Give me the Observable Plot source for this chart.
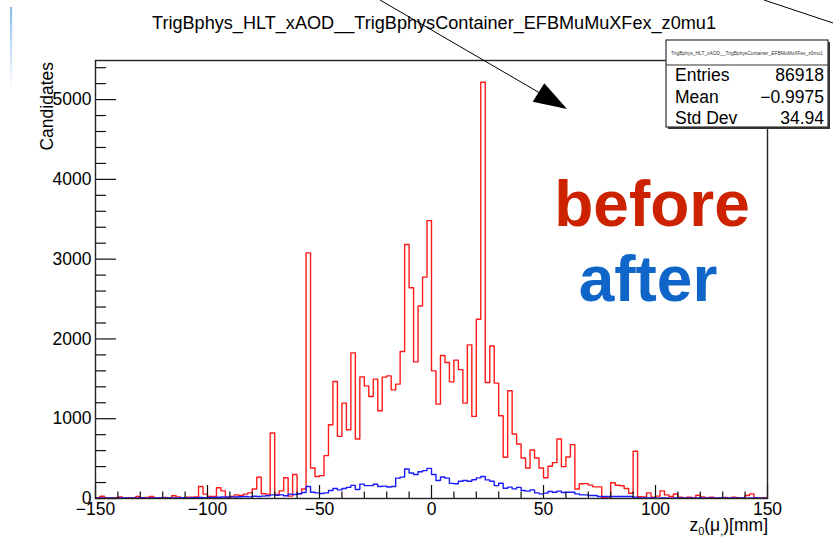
<!DOCTYPE html>
<html><head><meta charset="utf-8">
<script src="https://cdn.jsdelivr.net/npm/d3@7"></script>
<script src="https://cdn.jsdelivr.net/npm/@observablehq/plot@0.6"></script>
<style>
body{margin:0;background:#fff}
#chart{position:relative;width:833px;height:537px;overflow:hidden}
</style>
</head><body><div id="chart"></div>
<script>
// ---- data (bins of 2 mm from -150 to 150) ----
const binLow = -150;
const binWidth = 2;
const before = [
  10,29,8,5,10,20,8,10,8,25, 10,12,25,8,10,12,10,35,20,10,
  15,15,20,150,55,25,25,135,95,17, 25,45,37,55,70,120,267,60,55,821,
  50,95,260,30,300,60,120,3079,383,275, 287,537,925,1467,779,1196,862,1825,746,1525,
  1412,1279,1496,1100,1521,1537,1362,1433,1842,3183, 2642,1712,2412,2775,3483,1600,1183,1792,1704,1462,
  1735,1615,1196,1925,1029,2246,5217,1454,1912,1446, 1037,517,1350,808,683,508,383,608,508,383,
  260,405,450,746,400,520,675,120,185,187, 168,146,146,12,17,198,166,160,125,65,
  592,22,20,70,17,30,95,45,25,56, 17,10,15,10,40,20,10,15,8,10,
  12,8,15,10,8,37,58,10,8,10
];
const after = [
  5,8,5,6,5,8,6,5,7,6, 8,5,7,6,8,7,6,8,7,9,
  8,10,9,12,10,14,12,15,18,15, 20,18,22,25,20,28,25,30,35,46,
  40,45,35,55,50,60,75,150,79,70, 62,70,100,125,108,125,140,165,112,180,
  162,162,178,150,155,145,150,255,268,370, 320,300,335,350,378,300,225,270,255,190,
  185,217,225,217,235,258,275,233,217,162, 192,129,142,121,140,100,92,108,71,58,
  67,87,79,92,75,79,79,58,46,46, 37,37,25,25,25,25,25,25,25,25,
  17,8,8,6,8,5,8,6,5,8, 6,5,8,5,6,8,5,6,5,8,
  6,5,8,5,6,5,8,6,5,5
];
const xMajor = [-150,-100,-50,0,50,100,150];
const xMinor = [-140,-130,-120,-110,-90,-80,-70,-60,-40,-30,-20,-10,10,20,30,40,60,70,80,90,110,120,130,140];
const yMajor = [0,1000,2000,3000,4000,5000];
const yMinor = [200,400,600,800,1200,1400,1600,1800,2200,2400,2600,2800,3200,3400,3600,3800,4200,4400,4600,4800,5200,5400];
const yMax = 5490;
const titleText = "TrigBphys_HLT_xAOD__TrigBphysContainer_EFBMuMuXFex_z0mu1";
const statLabels = ["Entries","Mean","Std Dev"];
const statValues = ["86918","\u22120.9975","34.94"];

function toSteps(vals){
  const pts = vals.map((v,i)=>({x: binLow + i*binWidth, y: v}));
  pts.push({x: binLow + vals.length*binWidth, y: vals[vals.length-1]});
  return pts;
}

const W = 833, H = 537;
const mL = 95, mR = 66, mT = 60, mB = 39;
const fw = W - mL - mR, fh = H - mT - mB;
const FONT = "'Liberation Sans', Arial, Helvetica, sans-serif";

const plot = Plot.plot({
  width: W, height: H,
  marginLeft: mL, marginRight: mR, marginTop: mT, marginBottom: mB,
  style: {fontFamily: FONT, fontSize: "17.5px", background: "white", color: "#000", overflow: "visible"},
  x: {domain: [-150, 150]},
  y: {domain: [0, yMax]},
  marks: [
    Plot.line(toSteps(before), {x: "x", y: "y", curve: "step-after", stroke: "#ff1a1a", strokeWidth: 1.4}),
    Plot.line(toSteps(after), {x: "x", y: "y", curve: "step-after", stroke: "#1a1aff", strokeWidth: 1.4}),
    Plot.tickY(yMajor, {y: d => d, insetRight: fw - 21, stroke: "#111", strokeWidth: 1.2}),
    Plot.tickY(yMinor, {y: d => d, insetRight: fw - 11, stroke: "#111", strokeWidth: 1.2}),
    Plot.tickX(xMajor, {x: d => d, insetTop: fh - 13, stroke: "#111", strokeWidth: 1.2}),
    Plot.tickX(xMinor, {x: d => d, insetTop: fh - 6.5, stroke: "#111", strokeWidth: 1.2}),
    Plot.axisX(xMajor, {tickSize: 0, tickPadding: 4, label: null, fontSize: 17.5}),
    Plot.axisY(yMajor, {tickSize: 0, tickPadding: 4, label: null, fontSize: 17.5, tickFormat: d => `${d}`}),
    Plot.frame({stroke: "#222", strokeWidth: 1.4})
  ]
});
document.getElementById("chart").appendChild(plot);

const svg = d3.select(plot);

// faint vertical line at the far left
const defs = svg.append("defs");
const g = defs.append("linearGradient").attr("id","fadeBlue").attr("x1",0).attr("y1",0).attr("x2",0).attr("y2",1);
g.append("stop").attr("offset","0%").attr("stop-color","#8cbcf0");
g.append("stop").attr("offset","100%").attr("stop-color","#ffffff");
svg.append("rect").attr("x",10).attr("y",7).attr("width",2.2).attr("height",82).attr("fill","url(#fadeBlue)");

// title
const title = svg.append("text").attr("x",434).attr("y",29).attr("text-anchor","middle")
  .attr("font-family",FONT).attr("font-size",17).attr("fill","#000").text(titleText);
let tl = title.node().getComputedTextLength();
if (tl > 0) title.attr("font-size", 17 * 564 / tl);

// y label
svg.append("text").attr("transform","translate(53,62) rotate(-90)").attr("text-anchor","end")
  .attr("font-family",FONT).attr("font-size",17.5).attr("fill","#000").text("Candidates");

// x label with subscripts
const xl = svg.append("text").attr("x",768).attr("y",531).attr("text-anchor","end")
  .attr("font-family",FONT).attr("font-size",17.5).attr("fill","#000");
xl.append("tspan").text("z");
xl.append("tspan").attr("font-size",11).attr("dy",4).text("0");
xl.append("tspan").attr("dy",-4).text("(\u03bc");
xl.append("tspan").attr("font-size",11).attr("dy",4).text(",");
xl.append("tspan").attr("dy",-4).text(")[mm]");

// before / after labels
svg.append("text").attr("x",652).attr("y",226).attr("text-anchor","middle")
  .attr("font-family",FONT).attr("font-weight","bold").attr("font-size",64).attr("fill","#cc2200").text("before");
svg.append("text").attr("x",648).attr("y",301).attr("text-anchor","middle")
  .attr("font-family",FONT).attr("font-weight","bold").attr("font-size",64).attr("fill","#1066c8").text("after");

// stats box
svg.append("rect").attr("x",668).attr("y",42).attr("width",162).attr("height",87).attr("fill","#333");
svg.append("rect").attr("x",666).attr("y",40).attr("width",162).attr("height",87).attr("fill","#fff").attr("stroke","#333").attr("stroke-width",1.2);
svg.append("line").attr("x1",666).attr("x2",828).attr("y1",65).attr("y2",65).attr("stroke","#333").attr("stroke-width",1.2);
const st = svg.append("text").attr("x",747).attr("y",55).attr("text-anchor","middle")
  .attr("font-family",FONT).attr("font-size",5).attr("fill","#333").text(titleText);
let sl = st.node().getComputedTextLength();
if (sl > 0) st.attr("font-size", 5 * 152 / sl);
statLabels.forEach((lab,i)=>{
  svg.append("text").attr("x",675).attr("y",81 + i*21.5).attr("text-anchor","start").attr("font-family",FONT).attr("font-size",17.5).attr("fill","#000").text(lab);
  svg.append("text").attr("x",824).attr("y",81 + i*21.5).attr("text-anchor","end").attr("font-family",FONT).attr("font-size",17.5).attr("fill","#000").text(statValues[i]);
});

// arrow
svg.append("line").attr("x1",380).attr("y1",0).attr("x2",545).attr("y2",96).attr("stroke","#000").attr("stroke-width",1);
svg.append("polygon").attr("points","567,109 532.7,101.7 544.3,83.3").attr("fill","#000");
// line at top right
svg.append("line").attr("x1",764).attr("y1",0).attr("x2",833).attr("y2",23).attr("stroke","#000").attr("stroke-width",1);
</script>
</body></html>
